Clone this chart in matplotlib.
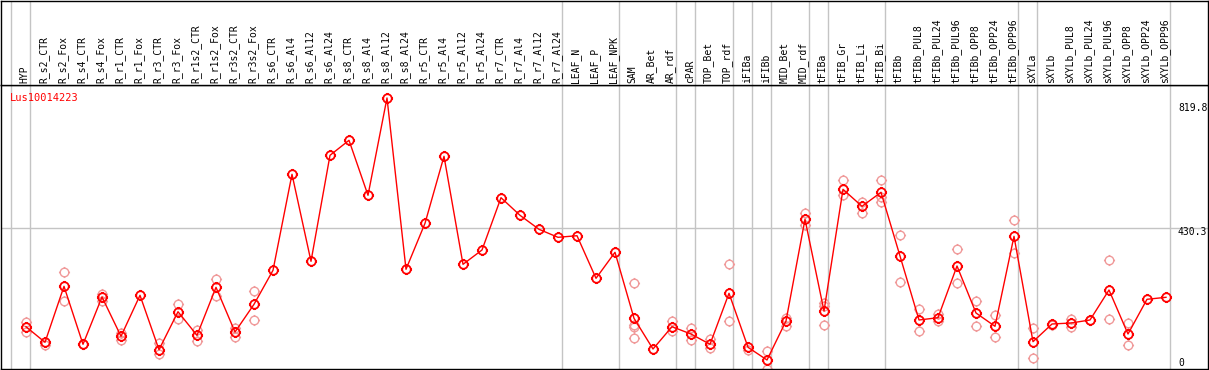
import matplotlib.pyplot as plt
from matplotlib.path import Path

samples = ["HYP", "R_s2_CTR", "R_s2_Fox", "R_s4_CTR", "R_s4_Fox", "R_r1_CTR", "R_r1_Fox",
           "R_r3_CTR", "R_r3_Fox", "R_r1s2_CTR", "R_r1s2_Fox", "R_r3s2_CTR", "R_r3s2_Fox",
           "R_s6_CTR", "R_s6_Al4", "R_s6_Al12", "R_s6_Al24", "R_s8_CTR", "R_s8_Al4",
           "R_s8_Al12", "R_s8_Al24", "R_r5_CTR", "R_r5_Al4", "R_r5_Al12", "R_r5_Al24",
           "R_r7_CTR", "R_r7_Al4", "R_r7_Al12", "R_r7_Al24", "LEAF_N", "LEAF_P", "LEAF_NPK",
           "SAM", "AR_Bet", "AR_rdf", "cPAR", "TOP_Bet", "TOP_rdf", "iFIBa", "iFIBb",
           "MID_Bet", "MID_rdf", "tFIBa", "tFIB_Gr", "tFIB_Li", "tFIB_Bi", "tFIBb",
           "tFIBb_PUL8", "tFIBb_PUL24", "tFIBb_PUL96", "tFIBb_OPP8", "tFIBb_OPP24",
           "tFIBb_OPP96", "sXYLa", "sXYLb", "sXYLb_PUL8", "sXYLb_PUL24", "sXYLb_PUL96",
           "sXYLb_OPP8", "sXYLb_OPP24", "sXYLb_OPP96"]

means = [134.5, 87.8, 255.5, 81.8, 223.5, 105.8, 228.6, 65.6, 179.4, 108.7, 252.5, 118.6,
         201.6, 303.5, 591.1, 330.4, 648.0, 692.9, 528.2, 819.8, 306.5, 444.3, 645.0, 321.4,
         364.3, 521.0, 468.2, 426.3, 402.3, 407.1, 279.5, 357.4, 159.7, 67.7, 134.5, 112.6,
         81.8, 234.6, 72.8, 34.8, 151.6, 456.3, 181.5, 546.1, 495.2, 537.1, 346.3, 154.6,
         161.5, 316.4, 175.6, 135.7, 405.3, 89.6, 142.6, 145.6, 154.6, 244.5, 112.6, 216.6,
         222.6]

# replicate values per sample index
replicates = {
    0: [149.5, 119.5], 1: [79.7], 2: [297.5, 210.6], 3: [81.8], 4: [231.6, 210.6],
    5: [114.7, 93.8], 7: [84.8, 52.7], 8: [202.5, 158.5], 9: [124.6, 92.6],
    10: [277.4, 227.4], 11: [129.7, 104.6], 12: [242.4, 155.5],
    32: [264.5, 134.5, 139.6, 99.8], 34: [151.6, 121.6], 35: [129.7, 94.7],
    36: [96.8, 69.8], 37: [321.4, 151.6], 38: [64.7], 39: [61.7, 6.9],
    40: [159.7, 136.6], 41: [476.0, 439.2], 42: [206.4, 196.5, 139.6],
    43: [574.0, 529.1], 44: [509.0, 474.2], 45: [574.0, 509.0, 524.0],
    46: [409.2, 267.5], 47: [187.5, 121.6], 48: [171.7, 151.6], 49: [367.3, 264.5],
    50: [210.6, 136.6], 51: [169.6, 103.7], 52: [454.2, 354.4], 53: [129.7, 39.8],
    54: [139.6], 55: [156.7, 134.5], 56: [154.6], 57: [334.3, 156.7], 58: [144.7, 79.7],
}

# group separators drawn after these sample indices
separators = [-1, 0, 28, 31, 34, 35, 37, 38, 39, 41, 42, 45, 52, 53, 60]
ytick_vals = [819.8, 430.3, 0]
gene = "Lus10014223"

W, H = 1209, 370
fig = plt.figure(figsize=(W / 100, H / 100), dpi=100)
ax = fig.add_axes([1 / W, 1 / H, 1207 / W, 284 / H])
top = fig.add_axes([1 / W, 285 / H, 1207 / W, 84 / H])

xlo, xhi = (1 - 26) / 19, (1208 - 26) / 19
ylo, yhi = (371.6 - 369) / 0.3338, (371.6 - 85) / 0.3338
for a in (ax, top):
    a.set_xlim(xlo, xhi)
    a.set_xticks([])
    a.set_yticks([])
    for s in a.spines.values():
        s.set_color("black")
        s.set_linewidth(1.0)
    for sep in separators:
        a.axvline(sep + 0.2, color="#c4c4c4", lw=1.0, zorder=0)
ax.set_ylim(ylo, yhi)
top.set_ylim(0, 1)

ax.axhline(430.3, color="#c4c4c4", lw=1.0, zorder=0)

# open circle with four small ticks
circ = Path.unit_circle()
ticks = Path([(0, 1), (0, 1.3), (0, -1), (0, -1.3), (1, 0), (1.3, 0), (-1, 0), (-1.3, 0)],
             [Path.MOVETO, Path.LINETO] * 4)
mk = Path.make_compound_path(circ, ticks)

xs = list(range(len(samples)))
rx, ry = [], []
for i, vals in replicates.items():
    rx += [i] * len(vals)
    ry += vals
ax.plot(rx, ry, ls="none", marker=mk, ms=8, mfc="none", mec="#f09a9a", mew=1.0, zorder=2)
ax.plot(xs, means, color="red", lw=1.0, zorder=3)
ax.plot(xs, means, ls="none", marker=mk, ms=8, mfc="none", mec="red", mew=1.3, zorder=4)

mono = "DejaVu Sans Mono"
for i, name in enumerate(samples):
    top.text(i - 0.07, 2 / 84, name, rotation=90, ha="center", va="bottom",
             fontsize=7, family=mono, color="black")

ax.annotate(gene, xy=(0, 1), xycoords="axes fraction", xytext=(9, -8),
            textcoords="offset pixels", ha="left", va="top", fontsize=7.5,
            family=mono, color="red")

offsets = [-10, -4, 9]
for v, off in zip(ytick_vals, offsets):
    lab = f"{v:g}"
    ax.annotate(lab, xy=(1, v), xycoords=("axes fraction", "data"),
                xytext=(-30, off), textcoords="offset pixels", ha="left",
                va="center", fontsize=7, family=mono, color="black",
                annotation_clip=False)

fig.savefig("out.png", dpi=100)
